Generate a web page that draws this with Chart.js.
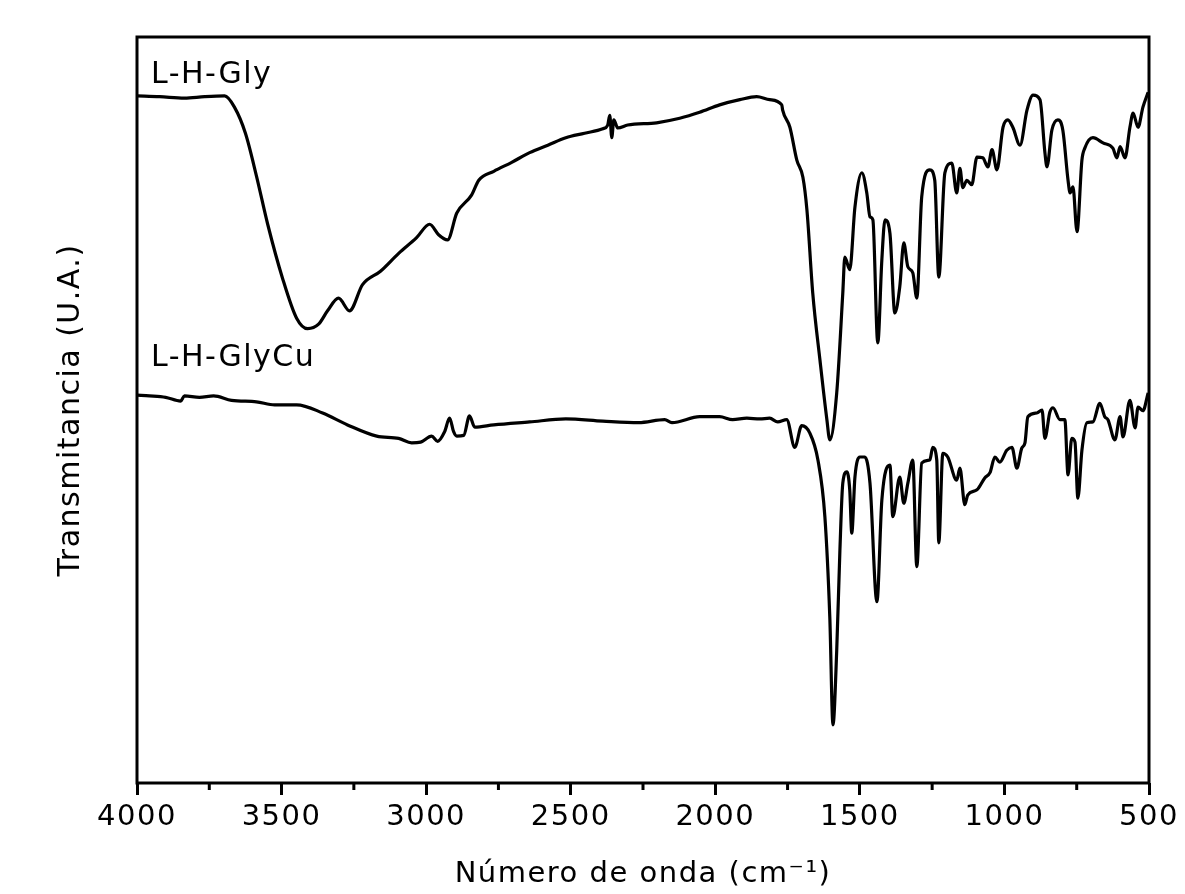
<!DOCTYPE html>
<html>
<head>
<meta charset="utf-8">
<script src="https://cdn.jsdelivr.net/npm/chart.js@4.4.1/dist/chart.umd.min.js"></script>
<style>
  html, body { margin: 0; padding: 0; background: #fff; }
  #wrap { width: 1185px; height: 894px; }
</style>
</head>
<body>
<div id="wrap"><canvas id="c" width="1185" height="894"></canvas></div>
<script>
// ---- data ----
const seriesNames = ['L-H-Gly', 'L-H-GlyCu'];

const glyWavenumber = [4000,3922,3836,3766,3697,3663,3625,3587,3548,3497,
  3448,3410,3372,3341,3303,3265,3220,3158,3095,3033,
  2988,2957,2926,2894,2843,2818,2766,2704,2642,2579,
  2517,2452,2389,2372,2365,2358,2351,2337,2303,2203,
  2123,2054,1985,1915,1857,1812,1770,1767,1742,1718,
  1697,1683,1663,1638,1614,1604,1580,1559,1552,1535,
  1517,1493,1476,1465,1455,1438,1424,1413,1396,1379,
  1362,1348,1334,1317,1303,1286,1258,1241,1227,1206,
  1182,1165,1154,1144,1130,1113,1095,1075,1057,1043,
  1026,1005,988,971,946,922,901,877,860,853,
  836,815,798,780,773,763,749,732,722,694,
  659,625,611,600,583,566,555,538,521,503];
const glyTransmittance = [92.1,92.0,91.8,92.0,92.1,90.6,87.1,81.4,74.9,67.7,
  62.3,60.9,61.5,63.3,65.0,63.3,66.8,68.6,71.0,73.1,
  74.9,73.5,72.8,76.4,78.8,80.8,82.0,83.2,84.5,85.5,
  86.5,87.1,87.7,88.2,89.5,86.5,88.9,87.8,88.2,88.5,
  89.1,89.9,90.9,91.6,92.0,91.6,90.9,90.2,87.9,83.5,
  81.2,76.8,65.7,56.7,48.7,46.0,52.3,65.7,70.5,68.8,
  77.2,81.8,79.1,75.9,75.5,59.0,70.1,75.5,73.7,63.0,
  66.5,72.4,69.2,68.4,65.0,78.6,82.2,80.8,67.8,81.8,
  83.1,79.1,82.4,79.8,80.8,80.2,83.9,83.8,82.6,84.9,
  82.2,87.9,88.9,87.9,85.5,90.2,92.2,91.6,84.5,82.6,
  87.5,88.9,87.5,80.8,79.1,79.9,73.9,83.5,85.1,86.5,
  85.8,85.1,83.8,85.3,83.8,87.9,89.8,87.9,90.6,92.6];

const glyCuWavenumber = [4000,3957,3901,3849,3836,3784,3735,3673,3587,3524,
  3448,3358,3272,3171,3095,3050,3019,2981,2960,2936,
  2919,2905,2894,2870,2850,2832,2766,2642,2517,2389,
  2265,2175,2150,2054,1985,1940,1891,1846,1812,1784,
  1753,1725,1701,1673,1645,1621,1604,1593,1580,1569,
  1559,1545,1535,1528,1517,1500,1483,1465,1441,1424,
  1396,1386,1362,1348,1334,1317,1303,1286,1258,1248,
  1234,1227,1213,1196,1165,1154,1137,1127,1095,1068,
  1050,1033,1016,992,974,957,940,929,919,888,
  870,860,843,832,808,791,780,767,756,746,
  732,715,694,670,653,642,618,600,590,566,
  548,538,521,503];
const glyCuTransmittance = [52.0,51.9,51.7,51.2,51.9,51.7,51.9,51.3,51.1,50.7,
  50.7,49.6,48.0,46.5,46.2,45.6,45.7,46.5,45.8,47.1,
  48.9,47.1,46.5,46.6,49.2,47.7,48.0,48.4,48.8,48.5,
  48.3,48.7,48.3,49.1,49.1,48.7,48.9,48.8,48.9,48.4,
  48.7,45.0,47.9,46.9,43.3,35.7,22.3,7.8,17.8,31.2,
  40.2,41.7,39.3,33.5,41.0,43.7,43.7,40.2,24.3,37.9,
  42.6,35.7,41.0,37.5,40.2,43.3,29.0,42.9,43.3,45.0,
  43.3,32.2,44.2,43.7,40.6,42.2,37.3,38.6,39.3,40.9,
  41.6,43.7,43.0,44.6,45.0,42.2,44.9,45.6,49.1,49.6,
  50.0,46.2,49.7,50.3,48.7,48.7,41.3,46.2,45.7,38.2,
  44.6,48.3,48.4,50.9,49.1,48.7,46.0,49.1,46.4,51.3,
  47.6,50.4,49.9,52.3];

const xMajorStep = 500;
const xMinorTicks = [3750, 3250, 2750, 2250, 1750, 1250, 750];
const xTitle = 'Número de onda (cm⁻¹)';
const yTitle = 'Transmitancia (U.A.)';

// ---- chart ----
const LS = '1.5px';
const FONT = '"DejaVu Sans", "Liberation Sans", Arial, sans-serif';
Chart.defaults.font.family = FONT;
Chart.defaults.color = '#000';

const toPoints = (xs, ys) => xs.map((x, i) => ({ x: x, y: ys[i] }));

const framePlugin = {
  id: 'framePlugin',
  beforeUpdate(chart) { chart.ctx.letterSpacing = LS; },
  beforeLayout(chart) { chart.ctx.letterSpacing = LS; },
  beforeDraw(chart) { chart.ctx.letterSpacing = LS; },
  afterDraw(chart) {
    const { ctx, chartArea: a, scales: { x } } = chart;
    ctx.save();
    ctx.strokeStyle = '#000';
    ctx.lineWidth = 3;
    ctx.strokeRect(a.left, a.top, a.right - a.left, a.bottom - a.top);
    ctx.beginPath();
    xMinorTicks.forEach(v => {
      const px = x.getPixelForValue(v);
      ctx.moveTo(px, a.bottom);
      ctx.lineTo(px, a.bottom + 7);
    });
    ctx.lineWidth = 3;
    ctx.stroke();
    ctx.fillStyle = '#000';
    ctx.font = '30px ' + FONT;
    ctx.letterSpacing = LS;
    ctx.textAlign = 'left';
    ctx.textBaseline = 'alphabetic';
    ctx.fillText(seriesNames[0], a.left + 14, a.top + 46);
    ctx.fillText(seriesNames[1], a.left + 14, a.top + 329);
    ctx.restore();
  }
};

new Chart(document.getElementById('c'), {
  type: 'line',
  data: {
    datasets: [
      { label: seriesNames[0], data: toPoints(glyWavenumber, glyTransmittance) },
      { label: seriesNames[1], data: toPoints(glyCuWavenumber, glyCuTransmittance) }
    ]
  },
  options: {
    responsive: false,
    animation: false,
    devicePixelRatio: 1,
    layout: { padding: { top: 37, right: 36, bottom: 0, left: 0 } },
    elements: {
      line: { borderColor: '#000', borderWidth: 3.2, cubicInterpolationMode: 'monotone', fill: false },
      point: { radius: 0, hitRadius: 0 }
    },
    plugins: { legend: { display: false }, tooltip: { enabled: false } },
    scales: {
      x: {
        type: 'linear',
        position: 'bottom',
        min: 500,
        max: 4000,
        reverse: true,
        afterFit(s) { s.height = 111; },
        border: { display: false },
        grid: { display: true, drawOnChartArea: false, drawTicks: true, tickLength: 12, tickWidth: 3, tickColor: '#000' },
        ticks: {
          stepSize: xMajorStep,
          autoSkip: false,
          maxRotation: 0,
          padding: 5,
          color: '#000',
          font: { size: 29, family: FONT },
          callback: v => String(v)
        },
        title: { display: true, text: xTitle, color: '#000', font: { size: 29, family: FONT }, padding: { top: 0, bottom: 2 } }
      },
      y: {
        type: 'linear',
        position: 'left',
        min: 0,
        max: 100,
        afterFit(s) { s.width = 137; },
        border: { display: false },
        grid: { display: false },
        ticks: { display: false },
        title: { display: true, text: yTitle, color: '#000', font: { size: 30, family: FONT }, padding: { top: 53, bottom: 0 } }
      }
    }
  },
  plugins: [framePlugin]
});
</script>
</body>
</html>
